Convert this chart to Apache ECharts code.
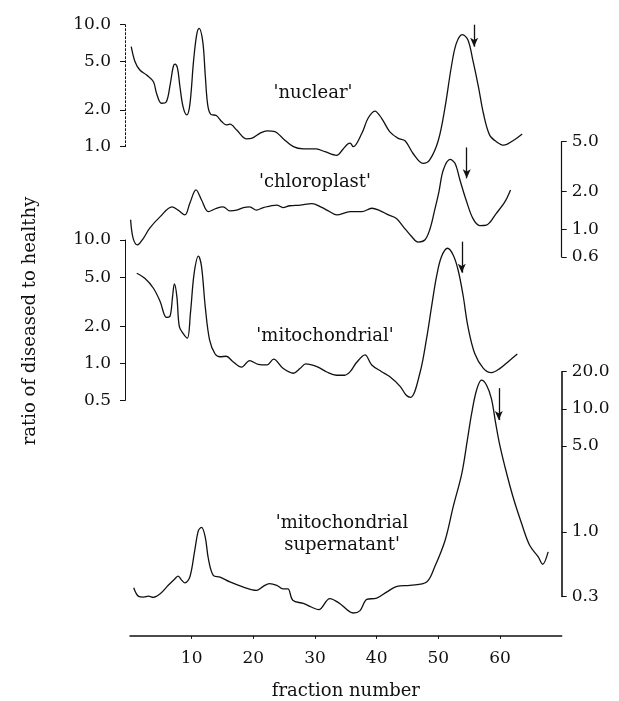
<!DOCTYPE html>
<html><head><meta charset="utf-8">
<script src="https://cdn.jsdelivr.net/npm/echarts@6/dist/echarts.min.js"></script>
<style>html,body{margin:0;padding:0;background:#fff}#c{width:619px;height:701px}</style>
</head><body><div id="c"></div>
<script>
// ---- data: [fraction number, ratio of diseased to healthy] ----
const fractionTicks = [10, 20, 30, 40, 50, 60];

const nuclear = [[0.2,6.6],[0.8,5.0],[1.6,4.25],[2.7,3.87],[3.8,3.41],[4.3,2.74],[5.1,2.27],[5.9,2.34],[6.5,3.2],[7.0,4.5],[7.3,4.75],[7.7,4.4],[8.1,3.1],[8.6,2.13],[9.2,1.82],[9.7,2.2],[10.3,5.0],[10.8,8.2],[11.2,9.34],[11.8,7.26],[12.2,3.87],[12.6,2.2],[13.1,1.84],[14.0,1.80],[14.9,1.60],[15.6,1.51],[16.2,1.53],[17.3,1.37],[18.9,1.16],[19.7,1.17],[21.1,1.29],[22.2,1.35],[23.5,1.33],[24.8,1.17],[26.5,1.0],[28.1,0.96],[30.2,0.96],[31.6,0.91],[33.5,0.85],[34.5,0.95],[35.3,1.05],[35.7,1.07],[36.2,1.0],[37.6,1.29],[38.6,1.71],[39.7,1.96],[40.8,1.71],[42.1,1.33],[43.5,1.17],[44.6,1.12],[45.9,0.88],[47.5,0.73],[48.6,0.78],[50.0,1.13],[51.1,2.13],[52.1,4.5],[52.9,7.0],[53.9,8.3],[54.8,7.5],[55.6,5.1],[56.5,3.1],[57.3,1.88],[58.3,1.25],[59.4,1.1],[60.6,1.03],[62.1,1.12],[63.6,1.27]];

const chloroplast = [[0.1,1.19],[0.5,0.85],[1.2,0.75],[2.2,0.85],[3.2,1.02],[4.9,1.26],[6.8,1.51],[7.8,1.42],[8.9,1.3],[9.7,1.61],[10.7,2.06],[11.6,1.71],[12.7,1.38],[14.0,1.47],[15.1,1.51],[16.2,1.40],[17.3,1.42],[18.4,1.49],[19.4,1.51],[20.5,1.42],[21.6,1.49],[22.7,1.53],[23.8,1.56],[24.8,1.49],[25.9,1.54],[27.6,1.56],[29.5,1.6],[31.0,1.5],[32.4,1.38],[33.5,1.3],[35.7,1.38],[37.6,1.38],[39.2,1.47],[40.5,1.41],[41.9,1.30],[43.2,1.22],[44.3,1.05],[45.7,0.87],[46.7,0.79],[47.8,0.82],[48.6,0.99],[49.4,1.42],[50.1,2.0],[50.8,2.97],[51.9,3.61],[52.7,3.36],[53.5,2.47],[54.5,1.71],[55.6,1.22],[56.7,1.07],[57.8,1.08],[59.4,1.34],[60.8,1.66],[61.7,2.06]];

const mitochondrial = [[1.1,5.37],[2.4,4.89],[3.8,4.06],[4.9,3.16],[5.9,2.36],[6.5,2.42],[6.9,3.47],[7.2,4.4],[7.6,3.47],[8.0,1.98],[8.6,1.75],[9.3,1.6],[9.8,2.55],[10.4,5.37],[11.1,7.41],[11.6,6.08],[12.2,2.88],[12.9,1.55],[13.8,1.19],[14.6,1.13],[15.6,1.14],[16.7,1.03],[18.1,0.93],[19.4,1.05],[20.8,0.98],[22.2,0.97],[23.3,1.08],[24.8,0.91],[26.5,0.83],[27.6,0.91],[28.5,0.99],[30.3,0.94],[31.9,0.85],[33.5,0.80],[34.8,0.80],[35.7,0.855],[36.7,1.01],[38.1,1.17],[39.2,0.97],[40.8,0.855],[42.1,0.78],[43.8,0.65],[44.8,0.55],[45.5,0.53],[47.0,0.83],[48.1,1.6],[48.9,2.88],[49.7,5.04],[50.5,7.3],[51.5,8.57],[52.4,7.55],[53.2,5.71],[54.0,3.58],[54.8,1.98],[55.9,1.2],[57.3,0.91],[58.6,0.84],[60.0,0.91],[61.6,1.06],[62.8,1.19]];

const supernatant = [[0.6,0.353],[1.4,0.30],[2.2,0.296],[3.0,0.301],[3.8,0.295],[4.9,0.315],[6.2,0.369],[7.3,0.418],[7.8,0.438],[8.4,0.405],[8.9,0.386],[9.7,0.431],[10.5,0.71],[11.1,1.03],[11.6,1.09],[12.2,0.91],[12.7,0.61],[13.5,0.445],[14.6,0.43],[16.2,0.393],[18.4,0.357],[20.5,0.336],[21.6,0.362],[22.6,0.381],[23.8,0.369],[24.8,0.345],[25.6,0.345],[26.4,0.279],[28.1,0.263],[29.4,0.246],[30.6,0.234],[32.4,0.288],[34.0,0.263],[36.2,0.22],[37.3,0.23],[38.4,0.284],[40.0,0.29],[41.6,0.325],[43.3,0.362],[45.4,0.369],[48.1,0.393],[49.4,0.52],[51.1,0.857],[52.4,1.6],[53.8,2.98],[54.7,5.57],[55.4,9.18],[56.2,14.2],[57.0,17.1],[57.8,15.6],[58.6,12.1],[59.3,7.6],[59.9,5.24],[60.8,3.38],[62.1,1.93],[63.5,1.17],[64.8,0.78],[66.2,0.627],[66.9,0.547],[67.8,0.69]];

// y-axis tick values per panel
const nuclearTicks = [1, 2, 5, 10];
const chloroplastTicks = [0.6, 1, 2, 5];
const mitochondrialTicks = [0.5, 1, 2, 5, 10];
const supernatantTicks = [0.3, 1, 5, 10, 20];

// arrows: [fraction, from ratio, to ratio]
const nuclearArrow = [55.8, 10, 6.6];
const chloroplastArrow = [54.6, 4.5, 2.55];
const mitochondrialArrow = [53.8, 9.7, 5.43];
const supernatantArrow = [59.8, 14.7, 8.1];

// ---- chart ----
const INK = '#111';
const FONT = 'DejaVu Serif';
const gridL = 130, gridW = 431.7;
const grids = [
  {top: 24.7, height: 122},
  {top: 141.7, height: 115.3},
  {top: 240, height: 160.4},
  {top: 371.7, height: 224.7}
].map(g => Object.assign({left: gridL, width: gridW, containLabel: false, outerBoundsMode: 'none'}, g));

function yAx(i, pos, ticks, offset, lineType, lw) {
  return {
    type: 'log', logBase: 10, gridIndex: i, position: pos, offset: offset,
    min: ticks[0], max: ticks[ticks.length - 1],
    axisLine: {show: true, onZero: false, lineStyle: {color: INK, width: lw, type: lineType}},
    axisTick: {show: true, customValues: ticks, length: 5, lineStyle: {color: INK, width: 1}},
    axisLabel: {show: true, customValues: ticks, formatter: v => Number(v).toFixed(1),
      margin: pos === 'left' ? 14 : 10, color: INK, fontFamily: FONT, fontSize: 17},
    splitLine: {show: false}, minorTick: {show: false}
  };
}
function xAx(i, show) {
  const a = {type: 'value', gridIndex: i, min: 0, max: 70, show: show, splitLine: {show: false}};
  if (show) Object.assign(a, {
    position: 'bottom', offset: 39.5,
    axisLine: {show: true, onZero: false, lineStyle: {color: INK, width: 1.5}},
    axisTick: {show: true, customValues: fractionTicks, length: 3, lineStyle: {color: INK}},
    axisLabel: {customValues: fractionTicks, margin: 14, color: INK, fontFamily: FONT, fontSize: 17},
    name: 'fraction number', nameLocation: 'middle', nameGap: 46,
    nameTextStyle: {color: INK, fontFamily: FONT, fontSize: 18}
  });
  return a;
}
function ser(i, data, arrow) {
  return {
    type: 'line', xAxisIndex: i, yAxisIndex: i, data: data, showSymbol: false, symbol: 'none',
    smooth: 0.35, clip: false, silent: true, animation: false,
    lineStyle: {color: INK, width: 1.3},
    markLine: {
      silent: true, animation: false, symbol: ['none', 'arrow'], symbolSize: [6, 9],
      lineStyle: {color: INK, width: 1.3, type: 'solid'}, label: {show: false},
      emphasis: {disabled: true},
      data: [[{coord: [arrow[0], arrow[1]]}, {coord: [arrow[0], arrow[2]]}]]
    }
  };
}
function txt(text, x, y, size) {
  return {type: 'text', x: x, y: y, silent: true,
    style: {text: text, fill: INK, font: size + 'px "' + FONT + '"', textAlign: 'center',
      textVerticalAlign: 'middle', lineHeight: 22}};
}

const chart = echarts.init(document.getElementById('c'), null, {renderer: 'canvas'});
chart.setOption({
  backgroundColor: '#fff',
  animation: false,
  grid: grids,
  xAxis: [xAx(0, false), xAx(1, false), xAx(2, false), xAx(3, true)],
  yAxis: [
    yAx(0, 'left', nuclearTicks, 5, [2, 2], 1),
    yAx(1, 'right', chloroplastTicks, 0, 'solid', 1.2),
    yAx(2, 'left', mitochondrialTicks, 5, 'solid', 1),
    yAx(3, 'right', supernatantTicks, 0, 'solid', 1.6)
  ],
  series: [
    ser(0, nuclear, nuclearArrow),
    ser(1, chloroplast, chloroplastArrow),
    ser(2, mitochondrial, mitochondrialArrow),
    ser(3, supernatant, supernatantArrow)
  ],
  graphic: [
    txt("'nuclear'", 313, 93, 18),
    txt("'chloroplast'", 315, 182, 18),
    txt("'mitochondrial'", 325, 336, 18),
    txt("'mitochondrial\nsupernatant'", 342, 534, 18),
    Object.assign(txt('ratio of diseased to healthy', 30, 321, 18), {rotation: Math.PI / 2})
  ]
});
</script>
</body></html>
